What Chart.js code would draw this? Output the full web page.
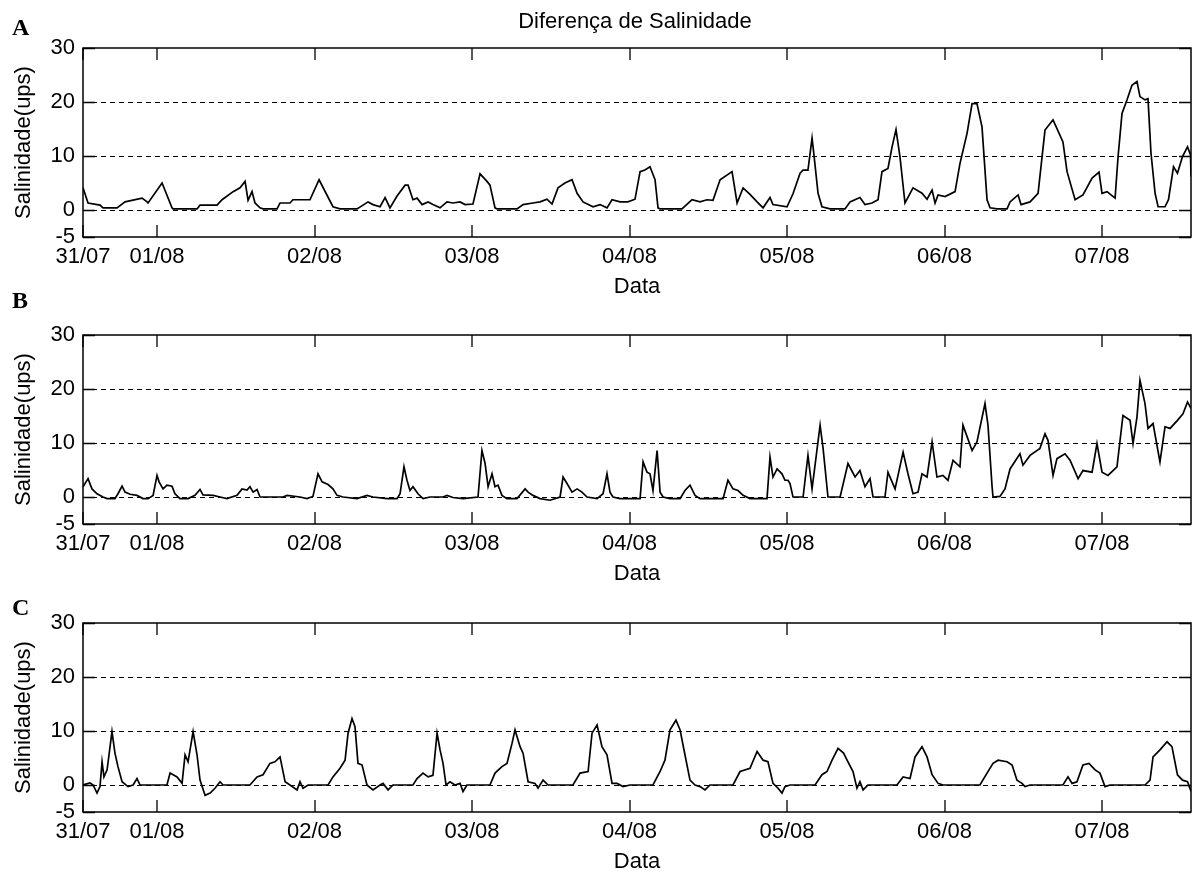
<!DOCTYPE html>
<html lang="pt">
<head>
<meta charset="utf-8">
<title>Diferença de Salinidade</title>
<script src="https://cdn.jsdelivr.net/npm/chart.js@4.4.1/dist/chart.umd.min.js"></script>
<style>
  html, body { margin: 0; padding: 0; background: #fff; overflow: hidden; }
  body { width: 1192px; height: 872px; position: relative; }
  .panel { position: absolute; left: 0; width: 1192px; height: 301px; }
  .panel canvas { display: block; }
</style>
</head>
<body>
<div class="panel" style="top:0px"><canvas id="chartA" width="1192" height="301"></canvas></div>
<div class="panel" style="top:287px"><canvas id="chartB" width="1192" height="301"></canvas></div>
<div class="panel" style="top:575px"><canvas id="chartC" width="1192" height="301"></canvas></div>

<script>
// Axis limits (days counted from 31/07 00:00) and ticks
const startDay = 0.53;
const endDay = 7.565;
const xTickDays = [0.53, 1, 2, 3, 4, 5, 6, 7];
const xTickLabels = ["31/07", "01/08", "02/08", "03/08", "04/08", "05/08", "06/08", "07/08"];
const yTicks = [-5, 0, 10, 20, 30];
const yGridLines = [0, 10, 20];

// Panel A
const timesA = [0.530, 0.562, 0.638, 0.657, 0.746, 0.797, 0.905, 0.937, 0.943, 1.032,
  1.095, 1.102, 1.254, 1.273, 1.381, 1.413, 1.483, 1.527, 1.559, 1.578,
  1.603, 1.622, 1.654, 1.673, 1.762, 1.781, 1.844, 1.863, 1.971, 2.029,
  2.117, 2.162, 2.270, 2.308, 2.340, 2.371, 2.416, 2.448, 2.479, 2.524,
  2.575, 2.594, 2.625, 2.651, 2.683, 2.721, 2.752, 2.797, 2.841, 2.879,
  2.924, 2.956, 3.006, 3.051, 3.095, 3.114, 3.146, 3.159, 3.286, 3.324,
  3.387, 3.432, 3.476, 3.508, 3.546, 3.590, 3.635, 3.667, 3.705, 3.768,
  3.813, 3.857, 3.889, 3.940, 3.990, 4.035, 4.067, 4.098, 4.130, 4.162,
  4.181, 4.194, 4.333, 4.397, 4.448, 4.492, 4.530, 4.575, 4.651, 4.683,
  4.721, 4.765, 4.810, 4.848, 4.892, 4.911, 5.000, 5.038, 5.083, 5.102,
  5.133, 5.159, 5.171, 5.197, 5.222, 5.273, 5.368, 5.400, 5.463, 5.495,
  5.540, 5.578, 5.603, 5.641, 5.667, 5.692, 5.717, 5.749, 5.800, 5.857,
  5.889, 5.921, 5.940, 5.959, 6.003, 6.067, 6.098, 6.143, 6.175, 6.206,
  6.238, 6.270, 6.289, 6.333, 6.397, 6.416, 6.467, 6.486, 6.543, 6.594,
  6.638, 6.689, 6.752, 6.778, 6.829, 6.879, 6.937, 6.981, 7.000, 7.032,
  7.083, 7.102, 7.127, 7.159, 7.190, 7.222, 7.241, 7.273, 7.292, 7.311,
  7.337, 7.356, 7.400, 7.422, 7.454, 7.479, 7.511, 7.543, 7.562, 7.565];
const salA = [4.1, 1.3, 0.9, 0.4, 0.4, 1.5, 2.2, 1.5, 1.3, 5.0,
  0.4, 0.2, 0.2, 0.9, 0.9, 1.9, 3.4, 4.1, 5.3, 1.8,
  3.4, 1.3, 0.4, 0.2, 0.2, 1.3, 1.3, 1.9, 1.9, 5.6,
  0.6, 0.2, 0.2, 0.9, 1.5, 1.0, 0.6, 2.3, 0.4, 2.6,
  4.6, 4.6, 1.9, 2.2, 1.0, 1.5, 1.0, 0.4, 1.5, 1.3,
  1.5, 1.0, 1.1, 6.7, 5.3, 4.6, 0.4, 0.2, 0.2, 1.0,
  1.3, 1.5, 2.0, 1.1, 4.1, 5.0, 5.6, 3.1, 1.5, 0.6,
  1.0, 0.4, 1.9, 1.5, 1.5, 2.0, 7.1, 7.4, 8.0, 5.6,
  0.4, 0.2, 0.2, 1.9, 1.5, 1.9, 1.8, 5.6, 7.1, 1.3,
  4.1, 2.9, 1.5, 0.4, 2.3, 1.0, 0.6, 3.0, 6.8, 7.4,
  7.4, 13.3, 10.2, 3.1, 0.6, 0.2, 0.2, 1.5, 2.3, 1.0,
  1.3, 1.9, 7.1, 7.7, 11.7, 14.9, 9.9, 1.3, 4.1, 3.1,
  2.0, 3.7, 1.3, 2.8, 2.5, 3.4, 8.6, 14.2, 19.7, 19.7,
  15.4, 1.9, 0.4, 0.2, 0.2, 1.5, 2.8, 1.0, 1.5, 3.1,
  14.8, 16.7, 12.6, 7.1, 1.9, 2.8, 5.9, 7.0, 3.1, 3.4,
  2.2, 9.9, 17.9, 20.4, 23.1, 23.8, 21.0, 20.4, 20.6, 10.5,
  3.1, 0.6, 0.6, 1.9, 8.0, 6.8, 9.9, 11.7, 10.2, 6.2];

// Panel B
const timesB = [0.530, 0.562, 0.587, 0.619, 0.657, 0.683, 0.733, 0.752, 0.778, 0.797,
  0.829, 0.873, 0.911, 0.943, 0.975, 1.000, 1.013, 1.038, 1.063, 1.095,
  1.114, 1.146, 1.197, 1.241, 1.273, 1.292, 1.356, 1.400, 1.444, 1.508,
  1.540, 1.571, 1.590, 1.610, 1.635, 1.654, 1.800, 1.825, 1.908, 1.952,
  1.990, 2.022, 2.048, 2.086, 2.117, 2.143, 2.181, 2.270, 2.333, 2.371,
  2.460, 2.524, 2.543, 2.568, 2.587, 2.606, 2.625, 2.657, 2.689, 2.733,
  2.816, 2.841, 2.879, 2.943, 3.038, 3.063, 3.083, 3.102, 3.127, 3.146,
  3.165, 3.190, 3.222, 3.286, 3.337, 3.356, 3.387, 3.432, 3.495, 3.559,
  3.578, 3.603, 3.635, 3.667, 3.698, 3.730, 3.794, 3.832, 3.857, 3.876,
  3.895, 3.940, 4.067, 4.086, 4.111, 4.130, 4.149, 4.175, 4.194, 4.213,
  4.257, 4.321, 4.352, 4.384, 4.416, 4.448, 4.594, 4.625, 4.657, 4.689,
  4.721, 4.765, 4.873, 4.892, 4.911, 4.937, 4.968, 4.987, 5.006, 5.019,
  5.038, 5.102, 5.133, 5.159, 5.210, 5.229, 5.260, 5.337, 5.387, 5.432,
  5.463, 5.495, 5.527, 5.546, 5.622, 5.641, 5.686, 5.737, 5.768, 5.800,
  5.832, 5.857, 5.889, 5.921, 5.952, 5.990, 6.022, 6.054, 6.098, 6.117,
  6.175, 6.206, 6.257, 6.276, 6.302, 6.308, 6.352, 6.384, 6.416, 6.479,
  6.498, 6.543, 6.606, 6.638, 6.657, 6.689, 6.714, 6.765, 6.797, 6.848,
  6.879, 6.937, 6.968, 7.000, 7.038, 7.095, 7.133, 7.178, 7.197, 7.222,
  7.241, 7.273, 7.292, 7.324, 7.368, 7.400, 7.432, 7.479, 7.514, 7.543,
  7.565];
const salB = [1.9, 3.4, 1.5, 0.6, 0, -0.3, -0.3, 0.6, 2.0, 0.9,
  0.5, 0.3, -0.3, -0.3, 0.3, 4.0, 2.8, 1.5, 2.2, 2.0,
  0.6, -0.3, -0.3, 0.3, 1.4, 0.4, 0.3, 0, -0.3, 0.3,
  1.5, 1.3, 1.9, 0.9, 1.4, 0, 0, 0.3, 0, -0.3,
  0.1, 4.3, 2.8, 2.3, 1.5, 0.3, 0, -0.3, 0.3, 0,
  -0.3, -0.3, 0.6, 5.6, 3.1, 1.2, 1.9, 0.6, -0.3, 0,
  0, 0.3, -0.1, -0.3, 0, 8.6, 6.2, 1.9, 4.3, 1.9,
  2.2, 0.3, -0.3, -0.3, 1.5, 0.9, 0.3, -0.3, -0.6, 0,
  3.7, 2.5, 0.9, 1.5, 0.9, 0, -0.3, 0.6, 4.3, 0.9,
  0, -0.3, -0.3, 6.5, 4.6, 4.3, 1.2, 8.6, 0.9, 0,
  -0.3, -0.3, 1.2, 2.2, 0.3, -0.3, -0.3, 3.1, 1.5, 1.2,
  0.3, -0.3, -0.3, 7.4, 3.7, 5.2, 4.3, 3.1, 3.1, 2.5,
  0, 0, 7.7, 1.5, 13.3, 9.0, 0, 0, 6.2, 3.7,
  4.9, 1.9, 3.4, 0, 0, 4.6, 1.5, 8.3, 4.3, 0.6,
  0.9, 4.3, 3.7, 10.2, 3.7, 4.0, 3.1, 6.8, 5.6, 13.3,
  8.6, 10.2, 17.3, 13.3, 1.9, 0, 0.1, 1.5, 5.2, 8.0,
  5.9, 7.7, 9.0, 11.7, 10.5, 4.0, 7.1, 8.0, 6.8, 3.4,
  4.9, 4.6, 9.9, 4.6, 4.0, 5.6, 15.1, 14.2, 9.9, 14.8,
  21.6, 17.3, 12.7, 13.6, 6.5, 13.0, 12.7, 14.2, 15.4, 17.6,
  16.4];

// Panel C
const timesC = [0.530, 0.575, 0.594, 0.619, 0.638, 0.651, 0.663, 0.683, 0.714, 0.733,
  0.752, 0.778, 0.816, 0.848, 0.873, 0.892, 1.063, 1.083, 1.127, 1.159,
  1.178, 1.197, 1.229, 1.254, 1.273, 1.305, 1.337, 1.368, 1.400, 1.419,
  1.590, 1.635, 1.673, 1.717, 1.749, 1.781, 1.813, 1.844, 1.889, 1.908,
  1.927, 1.959, 2.086, 2.117, 2.162, 2.194, 2.213, 2.238, 2.257, 2.276,
  2.302, 2.333, 2.371, 2.416, 2.435, 2.467, 2.498, 2.625, 2.651, 2.689,
  2.721, 2.752, 2.778, 2.797, 2.816, 2.835, 2.860, 2.892, 2.924, 2.943,
  2.968, 3.114, 3.146, 3.190, 3.222, 3.254, 3.273, 3.305, 3.324, 3.356,
  3.400, 3.419, 3.451, 3.483, 3.641, 3.686, 3.737, 3.762, 3.794, 3.825,
  3.857, 3.889, 3.921, 3.959, 4.003, 4.149, 4.194, 4.225, 4.257, 4.295,
  4.321, 4.352, 4.384, 4.416, 4.448, 4.479, 4.511, 4.657, 4.702, 4.765,
  4.810, 4.848, 4.879, 4.911, 4.943, 4.968, 4.987, 5.019, 5.178, 5.222,
  5.254, 5.286, 5.324, 5.359, 5.387, 5.419, 5.444, 5.463, 5.483, 5.514,
  5.698, 5.737, 5.781, 5.813, 5.857, 5.889, 5.921, 5.959, 5.990, 6.225,
  6.270, 6.308, 6.340, 6.397, 6.429, 6.460, 6.492, 6.511, 6.543, 6.752,
  6.784, 6.810, 6.841, 6.879, 6.917, 6.956, 6.987, 7.019, 7.051, 7.273,
  7.305, 7.324, 7.368, 7.413, 7.444, 7.479, 7.511, 7.543, 7.562, 7.565];
const salC = [0, 0.4, 0, -1.5, -0.3, 4.3, 1.5, 2.8, 9.9, 5.9,
  3.4, 0.6, -0.3, 0, 1.2, 0, 0, 2.2, 1.5, 0.3,
  5.6, 4.3, 9.9, 5.6, 0.9, -1.9, -1.5, -0.6, 0.6, 0,
  0, 1.5, 1.9, 4.0, 4.3, 5.2, 0.6, 0, -0.9, 0.6,
  -0.6, 0, 0, 1.5, 3.1, 4.6, 9.6, 12.3, 10.8, 4.0,
  3.7, 0, -0.9, 0, 0.3, -0.9, 0, 0, 1.2, 2.2,
  1.5, 1.8, 9.6, 6.5, 4.0, 0, 0.6, 0, 0.3, -1.2,
  0, 0, 2.2, 3.4, 4.0, 7.7, 10.2, 7.1, 5.9, 0.6,
  0.3, -0.6, 0.9, 0, 0, 2.2, 2.5, 9.6, 11.1, 7.1,
  5.6, 0.3, 0.3, -0.3, 0, 0, 2.5, 4.6, 10.2, 12.0,
  10.2, 5.6, 0.9, 0, -0.3, -0.9, 0, 0, 2.5, 3.1,
  6.2, 4.6, 4.3, 0.3, -0.6, -1.5, -0.3, 0, 0, 1.9,
  2.5, 4.6, 6.8, 5.9, 4.3, 2.5, -0.6, 0.6, -0.9, 0,
  0, 1.5, 1.2, 5.2, 7.1, 5.2, 1.9, 0.3, 0, 0,
  2.2, 4.0, 4.6, 4.3, 3.7, 0.9, 0.3, -0.3, 0, 0,
  1.5, 0.3, 0.6, 3.7, 4.0, 2.8, 2.2, -0.3, 0, 0,
  0.9, 5.2, 6.5, 8.0, 7.1, 1.9, 0.9, 0.6, -0.9, -1.2];

const titleText = "Diferença de Salinidade";
const fontFamily = "'Liberation Sans', Arial, sans-serif";
const labelFont = { family: fontFamily, size: 22 };

// Dashed grid, box frame and inward ticks on all four sides (MATLAB look)
const frameTicks = {
  id: "frameTicks",
  beforeDatasetsDraw(chart) {
    const { ctx, chartArea: a, scales: { y } } = chart;
    ctx.save();
    ctx.strokeStyle = "#000";
    ctx.lineWidth = 1;
    ctx.setLineDash([5, 4]);
    yGridLines.forEach((v) => {
      const py = Math.round(y.getPixelForValue(v)) + 0.5;
      ctx.beginPath();
      ctx.moveTo(a.left, py);
      ctx.lineTo(a.right, py);
      ctx.stroke();
    });
    ctx.restore();
  },
  afterDatasetsDraw(chart) {
    const { ctx, chartArea: a, scales: { x, y } } = chart;
    const len = 12;
    ctx.save();
    ctx.strokeStyle = "#000";
    ctx.lineWidth = 1.5;
    ctx.strokeRect(a.left, a.top, a.right - a.left, a.bottom - a.top);
    ctx.lineWidth = 1.3;
    ctx.beginPath();
    xTickDays.forEach((d) => {
      const px = Math.round(x.getPixelForValue(d));
      ctx.moveTo(px, a.bottom);
      ctx.lineTo(px, a.bottom - len);
      ctx.moveTo(px, a.top);
      ctx.lineTo(px, a.top + len);
    });
    yTicks.forEach((v) => {
      const py = Math.round(y.getPixelForValue(v)) + 0.5;
      ctx.moveTo(a.left, py);
      ctx.lineTo(a.left + len, py);
      ctx.moveTo(a.right, py);
      ctx.lineTo(a.right - len, py);
    });
    ctx.stroke();
    ctx.restore();
  }
};

// Panel letter (A, B, C) and the figure title
const panelDecor = {
  id: "panelDecor",
  afterDraw(chart, args, opts) {
    const ctx = chart.ctx;
    ctx.save();
    ctx.fillStyle = "#000";
    ctx.textBaseline = "alphabetic";
    ctx.font = "bold 24px 'Liberation Serif', 'Times New Roman', serif";
    ctx.textAlign = "left";
    ctx.fillText(opts.letter, 12, opts.letterY);
    if (opts.title) {
      ctx.font = "22px " + fontFamily;
      ctx.textAlign = "center";
      ctx.fillText(opts.title, 635, 28);
    }
    ctx.restore();
  }
};

function makePanel(id, letter, letterY, days, values, title) {
  const ctx = document.getElementById(id).getContext("2d");
  return new Chart(ctx, {
    type: "line",
    data: {
      datasets: [
        {
          data: days.map((d, i) => ({ x: d, y: values[i] })),
          borderColor: "#000",
          borderWidth: 1.7,
          pointRadius: 0,
          tension: 0,
          fill: false
        }
      ]
    },
    options: {
      responsive: false,
      animation: false,
      events: [],
      layout: { padding: { top: 48, left: 0, right: 1, bottom: 0 } },
      plugins: {
        legend: { display: false },
        tooltip: { enabled: false },
        panelDecor: { letter: letter, letterY: letterY, title: title }
      },
      scales: {
        x: {
          type: "linear",
          min: startDay,
          max: endDay,
          afterBuildTicks: (scale) => {
            scale.ticks = xTickDays.map((v) => ({ value: v }));
          },
          afterFit: (scale) => {
            scale.height = 64;
          },
          ticks: {
            autoSkip: false,
            maxRotation: 0,
            padding: 7,
            color: "#000",
            font: labelFont,
            callback: (value, index) => xTickLabels[index]
          },
          grid: { display: false, drawTicks: false },
          border: { display: false },
          title: {
            display: true,
            text: "Data",
            color: "#000",
            font: labelFont,
            padding: { top: 0, bottom: 1 }
          }
        },
        y: {
          min: -5,
          max: 30,
          afterBuildTicks: (scale) => {
            scale.ticks = yTicks.map((v) => ({ value: v }));
          },
          afterFit: (scale) => {
            scale.width = 83;
          },
          ticks: {
            padding: 8,
            color: "#000",
            font: labelFont,
            callback: (value) => String(value)
          },
          grid: { display: false, drawTicks: false },
          border: { display: false },
          title: {
            display: true,
            text: "Salinidade(ups)",
            color: "#000",
            font: labelFont,
            padding: { top: 11, bottom: 0 }
          }
        }
      }
    },
    plugins: [frameTicks, panelDecor]
  });
}

makePanel("chartA", "A", 35, timesA, salA, titleText);
makePanel("chartB", "B", 21, timesB, salB, "");
makePanel("chartC", "C", 40, timesC, salC, "");
</script>
</body>
</html>
